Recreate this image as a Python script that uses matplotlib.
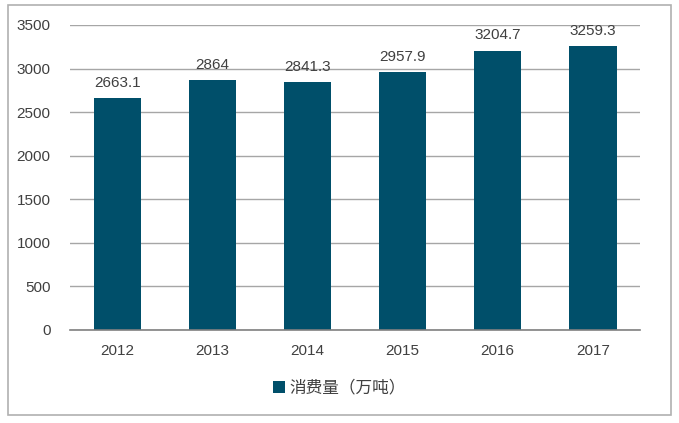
import matplotlib.pyplot as plt
from matplotlib.patches import Rectangle

plt.rcParams['font.family'] = ['Liberation Sans', 'Noto Sans CJK SC', 'DejaVu Sans']

years = ['2012', '2013', '2014', '2015', '2016', '2017']
consumption = [2663.1, 2864, 2841.3, 2957.9, 3204.7, 3259.3]
value_labels = ['2663.1', '2864', '2841.3', '2957.9', '3204.7', '3259.3']
y_ticks = [0, 500, 1000, 1500, 2000, 2500, 3000, 3500]

bar_color = '#004f6a'
text_color = '#404040'

fig = plt.figure(figsize=(6.79, 4.23), dpi=100)
ax = fig.add_axes([0.103, 0.22, 0.84, 0.721])

# outer frame
fig.patches.append(Rectangle((0.012, 0.02), 0.976, 0.967, transform=fig.transFigure,
                             fill=False, edgecolor='#b0b0b0', linewidth=1.2))

x = range(len(years))
ax.bar(x, consumption, width=0.5, color=bar_color, zorder=3, label='消费量（万吨）')
for i, v in enumerate(consumption):
    ax.annotate(value_labels[i], (i, v), xytext=(0, 6), textcoords='offset points',
                ha='center', va='bottom', fontsize=11, color=text_color)

ax.set_xlim(-0.5, len(years) - 0.5)
ax.set_ylim(0, 3500)
ax.set_yticks(y_ticks)
ax.set_xticks(list(x))
ax.set_xticklabels(years)
ax.tick_params(axis='both', length=0, labelsize=11, labelcolor=text_color)
ax.tick_params(axis='y', pad=14)
ax.tick_params(axis='x', pad=10)
ax.grid(axis='y', color='#a6a6a6', linewidth=1, zorder=0)
for s in ['top', 'right', 'left']:
    ax.spines[s].set_visible(False)
ax.spines['bottom'].set_color('#808080')
ax.spines['bottom'].set_linewidth(1.2)
ax.spines['bottom'].set_zorder(4)

leg = fig.legend(loc='center', bbox_to_anchor=(0.5, 0.082), frameon=False,
                 handlelength=0.7, handleheight=0.7, handletextpad=0.3,
                 prop={'family': ['Noto Sans CJK SC', 'DejaVu Sans'], 'size': 12})
for t in leg.get_texts():
    t.set_color(text_color)

fig.savefig('out.png', dpi=100)
